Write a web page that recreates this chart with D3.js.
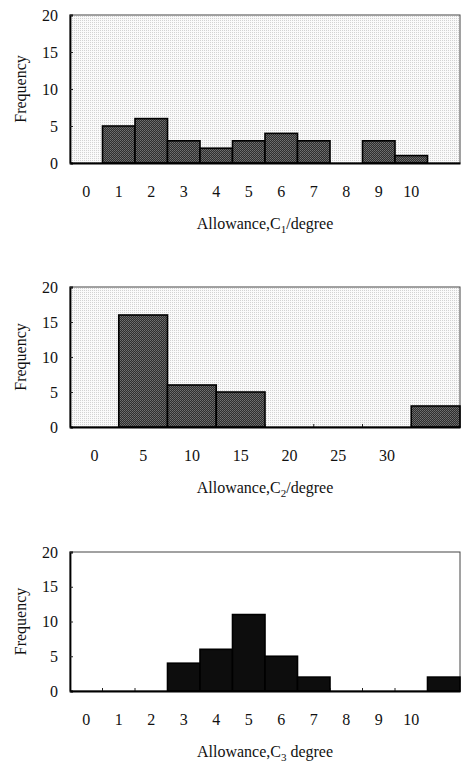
<!DOCTYPE html>
<html>
<head>
<meta charset="utf-8">
<script src="https://cdn.jsdelivr.net/npm/d3@7"></script>
<style>
  body { margin: 0; background: #fff; }
  text { font-family: "Liberation Serif", "DejaVu Serif", serif; fill: #111; }
</style>
</head>
<body>
<div id="chart"></div>
<script>
// tick labels and bin counts
var yTicks = [0, 5, 10, 15, 20];

var c1Labels = ["0", "1", "2", "3", "4", "5", "6", "7", "8", "9", "10", ""];
var c1Counts = [0, 5, 6, 3, 2, 3, 4, 3, 0, 3, 1, 0];

var c2Labels = ["0", "5", "10", "15", "20", "25", "30", ""];
var c2Counts = [0, 16, 6, 5, 0, 0, 0, 3];

var c3Labels = ["0", "1", "2", "3", "4", "5", "6", "7", "8", "9", "10", ""];
var c3Counts = [0, 0, 0, 4, 6, 11, 5, 2, 0, 0, 0, 2];

var width = 461, height = 762;
var left = 70, right = 460;

var svg = d3.select("#chart").append("svg")
  .attr("width", width)
  .attr("height", height);

// dithered textures like the scanned figure
var defs = svg.append("defs");
var bg = defs.append("pattern").attr("id", "bgTex")
  .attr("width", 2).attr("height", 2).attr("patternUnits", "userSpaceOnUse");
bg.append("rect").attr("width", 2).attr("height", 2).attr("fill", "#fafafa");
bg.append("rect").attr("width", 1).attr("height", 1).attr("fill", "#d2d2d2");

var bt = defs.append("pattern").attr("id", "barTex")
  .attr("width", 2).attr("height", 2).attr("patternUnits", "userSpaceOnUse");
bt.append("rect").attr("width", 2).attr("height", 2).attr("fill", "#2e2e2e");
bt.append("rect").attr("width", 1).attr("height", 1).attr("fill", "#707070");
bt.append("rect").attr("x", 1).attr("y", 1).attr("width", 1).attr("height", 1).attr("fill", "#626262");

var panels = [
  { labels: c1Labels, counts: c1Counts, top: 15, bottom: 163, sub: "1", rest: "/degree", bg: "url(#bgTex)", bar: "url(#barTex)" },
  { labels: c2Labels, counts: c2Counts, top: 287, bottom: 427, sub: "2", rest: "/degree", bg: "url(#bgTex)", bar: "url(#barTex)" },
  { labels: c3Labels, counts: c3Counts, top: 552, bottom: 691, sub: "3", rest: " degree", bg: "#fff", bar: "#0d0d0d" }
];

panels.forEach(function (p) {
  var idx = p.labels.map(function (d, i) { return String(i); });

  var x = d3.scaleBand().domain(idx).range([left, right]).padding(0);
  var y = d3.scaleLinear().domain([0, 20]).range([p.bottom, p.top]);

  var g = svg.append("g");

  // plot background + frame
  g.append("rect")
    .attr("x", left).attr("y", p.top)
    .attr("width", right - left).attr("height", p.bottom - p.top)
    .attr("fill", p.bg)
    .attr("stroke", "#444").attr("stroke-width", 1);

  // small inward ticks at the bin edges
  g.selectAll(".edge").data(idx.slice(1))
    .enter().append("line")
    .attr("x1", function (d) { return x(d); })
    .attr("x2", function (d) { return x(d); })
    .attr("y1", p.bottom).attr("y2", p.bottom - 3)
    .attr("stroke", "#222").attr("stroke-width", 1);

  // bars
  g.selectAll(".bar").data(p.counts.map(function (v, i) { return { k: String(i), v: v }; })
      .filter(function (d) { return d.v > 0; }))
    .enter().append("rect")
    .attr("x", function (d) { return x(d.k); })
    .attr("y", function (d) { return y(d.v); })
    .attr("width", x.bandwidth())
    .attr("height", function (d) { return y(0) - y(d.v); })
    .attr("fill", p.bar)
    .attr("stroke", "#000").attr("stroke-width", 1.6);

  // y axis
  var ya = g.append("g")
    .attr("transform", "translate(" + left + ",0)")
    .call(d3.axisLeft(y).tickValues(yTicks).tickSize(-3).tickPadding(12));
  ya.select(".domain").attr("stroke", "#000").attr("stroke-width", 1.8);
  ya.selectAll(".tick line").attr("stroke", "#222");
  ya.selectAll("text").attr("font-size", 16).attr("font-family", "Liberation Serif").attr("fill", "#111");

  // x axis (labels centred in each bin)
  var xa = g.append("g")
    .attr("transform", "translate(0," + p.bottom + ")")
    .call(d3.axisBottom(x).tickSize(0).tickPadding(23)
      .tickFormat(function (d) { return p.labels[+d]; }));
  xa.select(".domain").attr("stroke", "#000").attr("stroke-width", 1.8);
  xa.selectAll("text").attr("font-size", 16).attr("font-family", "Liberation Serif").attr("fill", "#111");

  // axis titles
  var t = g.append("text")
    .attr("x", (left + right) / 2)
    .attr("y", p.bottom + 66)
    .attr("text-anchor", "middle")
    .attr("font-size", 16);
  t.append("tspan").text("Allowance,C");
  t.append("tspan").attr("font-size", 11).attr("dy", 4).text(p.sub);
  t.append("tspan").attr("dy", -4).text(p.rest);

  g.append("text")
    .attr("transform", "translate(26," + (p.top + p.bottom) / 2 + ") rotate(-90)")
    .attr("text-anchor", "middle")
    .attr("font-size", 16)
    .text("Frequency");
});
</script>
</body>
</html>
